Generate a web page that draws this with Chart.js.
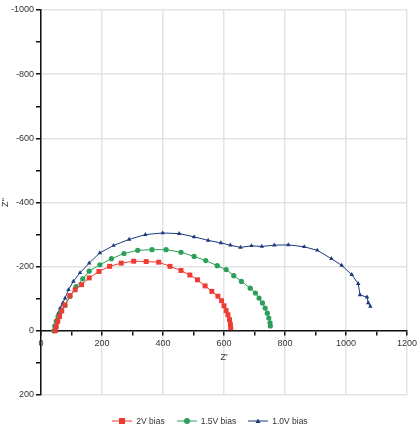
<!DOCTYPE html>
<html lang="en">
<head>
    <meta charset="UTF-8">
    <title>Nyquist plot</title>
    <script src="https://cdn.jsdelivr.net/npm/chart.js"></script>
    <style>
        body { margin: 0; background: #fff; }
        .wrap { position: relative; width: 420px; height: 440px; }
        .legend {
            position: absolute; left: 0; top: 416px; width: 420px;
            display: flex; justify-content: center; gap: 12px;
            font-family: "Liberation Sans", Arial, sans-serif; font-size: 8.5px; color: #333;
        }
        .legend span { display: flex; align-items: center; gap: 4px; }
    </style>
</head>
<body>
<div class="wrap">
    <canvas id="chart"></canvas>
    <div class="legend" id="legend"></div>
</div>
<script>
    // Z' values (x) and Z'' values (y, negative = up)
    const red_x = [46, 50, 55, 61, 68, 78, 95, 112, 133, 158, 190, 225, 263, 304, 345, 386, 423, 459, 488, 513, 538, 560, 580, 592, 600, 607, 613, 618, 621, 622];
    const red_y = [0, -15, -30, -45, -62, -80, -110, -128, -144, -165, -185, -201, -211, -217, -216, -214, -201, -188, -174, -159, -140, -123, -108, -94, -78, -63, -50, -35, -20, -10];

    const green_x = [42, 45, 50, 56, 64, 79, 95, 115, 137, 158, 193, 231, 272, 317, 364, 410, 459, 502, 540, 578, 607, 632, 657, 686, 703, 715, 726, 735, 742, 747, 751, 752];
    const green_y = [0, -15, -30, -45, -60, -80, -107, -138, -162, -186, -206, -225, -241, -251, -253, -253, -245, -232, -219, -203, -191, -172, -154, -133, -118, -102, -87, -71, -55, -40, -25, -15];

    const blue_x = [50, 50, 52, 54, 57, 63, 71, 79, 90, 106, 128, 158, 193, 238, 289, 342, 399, 453, 502, 548, 590, 621, 654, 690, 724, 765, 811, 863, 906, 952, 986, 1019, 1040, 1046, 1069, 1073, 1080];
    const blue_y = [0, -10, -25, -40, -55, -71, -86, -102, -128, -154, -181, -211, -243, -266, -285, -300, -305, -303, -293, -282, -274, -267, -260, -265, -263, -267, -268, -262, -251, -225, -204, -175, -147, -112, -105, -87, -76];

    const seriesNames = ['2V bias', '1.5V bias', '1.0V bias'];

    const toPoints = (xs, ys) => xs.map((x, i) => ({ x: x, y: ys[i] }));

    const styles = [
        { color: '#ee3b33', point: 'rect', r: 3.5 },
        { color: '#2c9f5a', point: 'circle', r: 2.6 },
        { color: '#1c3a7c', point: 'triangle', r: 2.6 }
    ];
    const pts = [toPoints(red_x, red_y), toPoints(green_x, green_y), toPoints(blue_x, blue_y)];

    const datasets = pts.map((d, i) => ({
        label: seriesNames[i],
        data: d,
        showLine: true,
        borderColor: styles[i].color,
        backgroundColor: styles[i].color,
        borderWidth: 1,
        pointStyle: styles[i].point,
        pointRadius: styles[i].r,
        pointBorderWidth: 0,
        tension: 0
    }));

    const font = { family: '"Liberation Sans", Arial, sans-serif', size: 9 };
    const even = v => Math.round(v) % 200 === 0;

    new Chart(document.getElementById('chart').getContext('2d'), {
        type: 'scatter',
        data: { datasets: datasets },
        options: {
            responsive: true,
            maintainAspectRatio: false,
            animation: false,
            layout: { padding: { top: 10, right: 10, bottom: 45, left: 0 } },
            plugins: { legend: { display: false }, tooltip: { enabled: false } },
            scales: {
                x: {
                    type: 'linear',
                    position: { y: 0 },
                    min: 0, max: 1200,
                    ticks: {
                        stepSize: 100, color: '#333', font: font, padding: 3,
                        callback: v => even(v) ? String(v) : ''
                    },
                    grid: {
                        color: c => even(c.tick.value) ? '#e3e3e3' : 'rgba(0,0,0,0)',
                        lineWidth: 1.5,
                        tickColor: '#111', tickLength: 4
                    },
                    border: { color: '#111', width: 1.5 },
                    title: { display: true, text: "Z'", color: '#333', font: font, padding: 0 }
                },
                y: {
                    type: 'linear',
                    min: -1000, max: 200,
                    reverse: true,
                    afterFit: s => { s.width = 41; },
                    ticks: {
                        stepSize: 100, color: '#333', font: font, padding: 2,
                        callback: v => even(v) ? String(v) : ''
                    },
                    grid: {
                        color: c => even(c.tick.value) ? '#e3e3e3' : 'rgba(0,0,0,0)',
                        lineWidth: 1.5,
                        tickColor: '#111', tickLength: 5
                    },
                    border: { color: '#111', width: 1.5 },
                    title: { display: true, text: "Z''", color: '#333', font: font, padding: 0 }
                }
            }
        }
    });

    // legend: line with marker, like the original
    const legend = document.getElementById('legend');
    styles.forEach((s, i) => {
        const c = s.color;
        let mark = '';
        if (s.point === 'rect') mark = `<rect x="7" y="2" width="6" height="6" fill="${c}"/>`;
        if (s.point === 'circle') mark = `<circle cx="10" cy="5" r="3" fill="${c}"/>`;
        if (s.point === 'triangle') mark = `<polygon points="10,2.5 12.5,7 7.5,7" fill="${c}"/>`;
        legend.innerHTML += `<span><svg width="20" height="10"><line x1="0" y1="5" x2="20" y2="5" stroke="${c}" stroke-width="1"/>${mark}</svg>${seriesNames[i]}</span>`;
    });
</script>
</body>
</html>
